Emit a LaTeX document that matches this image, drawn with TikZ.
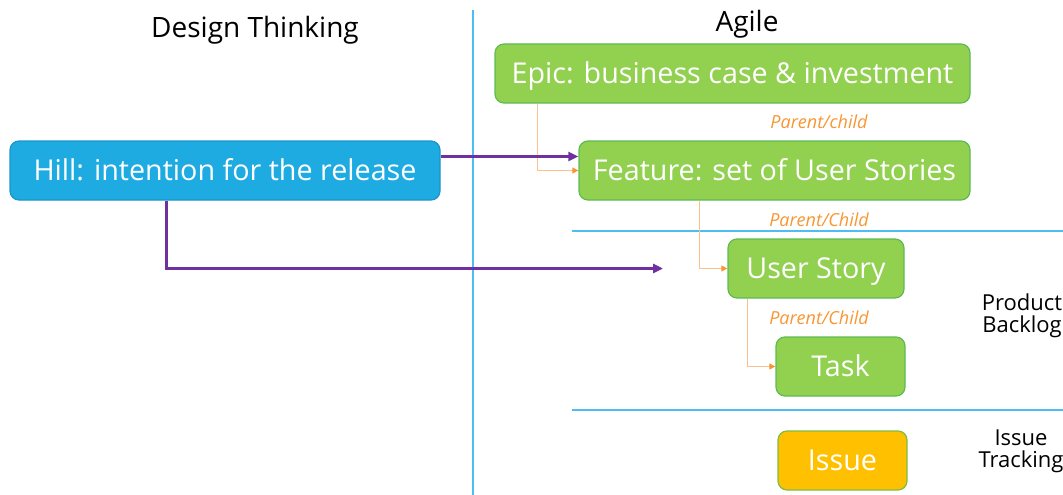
\documentclass[tikz,border=0pt]{standalone}
\usepackage{fontspec}
\setmainfont{Open Sans}
\usetikzlibrary{arrows.meta}
\definecolor{boxgreen}{HTML}{92D050}
\definecolor{edgegreen}{HTML}{5DBB52}
\definecolor{hillblue}{HTML}{1EABE2}
\definecolor{hilledge}{HTML}{1C96C8}
\definecolor{issueyellow}{HTML}{FFC000}
\definecolor{linkpurple}{HTML}{7030A0}
\definecolor{linkorange}{HTML}{F79633}
\definecolor{lightorange}{HTML}{FBC08C}
\definecolor{divblue}{HTML}{4DBEEE}

\begin{document}
\begin{tikzpicture}[x=1pt,y=-1pt,
    item/.style={rounded corners=9pt,line width=1.2pt,draw=edgegreen,fill=boxgreen,
        text=white,minimum height=59pt,inner sep=0pt,text height=20.4pt,text depth=0pt,
        font=\fontsize{28.7}{32}\selectfont},
    hill/.style={item,draw=hilledge,fill=hillblue},
    issue/.style={item,fill=issueyellow,draw=edgegreen!80!issueyellow},
    heading/.style={font=\fontsize{28}{32}\selectfont},
    side/.style={font=\fontsize{22}{22}\selectfont,align=center},
    relation/.style={font=\itshape\fontsize{18}{20}\selectfont,text=linkorange},
    childlink/.style={draw=lightorange,line width=1pt,-{Triangle[length=6pt,width=6pt,color=linkorange]}},
    hilllink/.style={draw=linkpurple,line width=2.6pt,-{Triangle[length=10pt,width=9pt]}},
    divider/.style={draw=divblue,line width=1.4pt}]
	\useasboundingbox (0,0) rectangle (1063,495);
	\draw[divider] (473,10) -- (473,495);
	\draw[divider] (572,231) -- (1063,231);
	\draw[divider] (572,410) -- (1063,410);
	\node[heading] (design) at (255,30) {Design Thinking};
	\node[heading] (agile) at (747,24) {Agile};
	\node[item,minimum width=475pt] (epic) at (732.5,73.5) {Epic: business case \& investment};
	\node[item,minimum width=391pt] (feature) at (774.5,170.5) {Feature: set of User Stories};
	\node[hill,minimum width=430pt] (hill) at (225,170.5) {Hill: intention for the release};
	\node[item,minimum width=176pt] (story) at (816,268.5) {User Story};
	\node[item,minimum width=129pt] (task) at (840.5,366.5) {Task};
	\node[issue,minimum width=129pt] (issue) at (842.5,460.5) {Issue};
	\node[relation] (rel1) at (819,122) {Parent/child};
	\node[relation] (rel2) at (819,220) {Parent/Child};
	\node[relation] (rel3) at (819,318) {Parent/Child};
	\node[side] (backlog) at (1022,316) {Product\\Backlog};
	\node[side] (tracking) at (1021,451) {Issue\\Tracking};
	\coordinate (storyend) at (663,268.5);
	\draw[childlink] ([xshift=43pt]epic.south west) |- (feature.west);
	\draw[childlink] ([xshift=121pt]feature.south west) |- (story.west);
	\draw[childlink] ([xshift=20pt]story.south west) |- (task.west);
	\draw[hilllink] ([yshift=14pt]hill.east) -- ([yshift=14pt]feature.west);
	\draw[hilllink] ([xshift=157pt]hill.south west) |- (storyend);
\end{tikzpicture}
\end{document}
